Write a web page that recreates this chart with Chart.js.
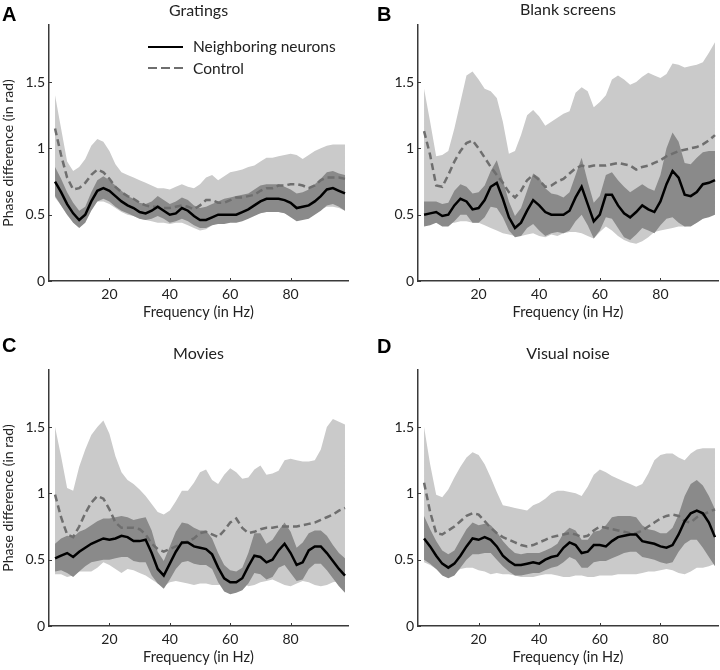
<!DOCTYPE html>
<html>
<head>
<meta charset="UTF-8">
<title>Phase difference</title>
<script src="https://cdn.jsdelivr.net/npm/chart.js"></script>
<style>
  body { margin: 0; background: #fff; }
  #wrap { position: relative; width: 720px; height: 670px; font-family: Lato, sans-serif; color: #222; }
  canvas { position: absolute; }
  .letter { position: absolute; font: bold 20px "Liberation Sans", Arial, sans-serif; line-height: 1; color: #000; }
  .title { position: absolute; font-size: 16px; line-height: 1; text-align: center; }
  .lgtext { position: absolute; font-size: 15.5px; line-height: 1; white-space: nowrap; }
  .lgline { position: absolute; width: 35px; height: 2.5px; }
</style>
</head>
<body>
<div id="wrap">
  <canvas id="chartA" width="360" height="320" style="left:0;top:0"></canvas>
  <canvas id="chartB" width="360" height="320" style="left:360px;top:0"></canvas>
  <canvas id="chartC" width="360" height="350" style="left:0;top:320px"></canvas>
  <canvas id="chartD" width="360" height="350" style="left:360px;top:320px"></canvas>

  <div class="letter" style="left:2px;top:4px">A</div>
  <div class="letter" style="left:377px;top:4px">B</div>
  <div class="letter" style="left:2px;top:335px">C</div>
  <div class="letter" style="left:377px;top:336px">D</div>

  <div class="title" style="left:49px;width:299px;top:2px">Gratings</div>
  <div class="title" style="left:418px;width:300px;top:1px">Blank screens</div>
  <div class="title" style="left:49px;width:299px;top:345px">Movies</div>
  <div class="title" style="left:418px;width:300px;top:345px">Visual noise</div>

  <div class="lgline" style="left:148px;top:45.75px;background:#000"></div>
  <div class="lgtext" style="left:193px;top:39px">Neighboring neurons</div>
  <div class="lgline" style="left:148px;top:66.75px;background:repeating-linear-gradient(90deg,#6e6e6e 0 9px,transparent 9px 13px)"></div>
  <div class="lgtext" style="left:193px;top:61px">Control</div>
</div>

<script>
// frequencies (Hz)
const freq = [2, 4, 6, 8, 10, 12, 14, 16, 18, 20,
              22, 24, 26, 28, 30, 32, 34, 36, 38, 40,
              42, 44, 46, 48, 50, 52, 54, 56, 58, 60,
              62, 64, 66, 68, 70, 72, 74, 76, 78, 80,
              82, 84, 86, 88, 90, 92, 94, 96, 98];
const xTicks = [20, 40, 60, 80];
const yTicks = [0, 0.5, 1, 1.5];

// A - Gratings
const aNeighbor = [0.75, 0.67, 0.58, 0.51, 0.46, 0.50, 0.60, 0.68, 0.70, 0.68,
                   0.64, 0.60, 0.57, 0.55, 0.52, 0.51, 0.53, 0.56, 0.53, 0.50,
                   0.51, 0.55, 0.53, 0.49, 0.46, 0.46, 0.48, 0.50, 0.50, 0.50,
                   0.50, 0.52, 0.54, 0.57, 0.60, 0.62, 0.62, 0.62, 0.61, 0.59,
                   0.55, 0.56, 0.57, 0.60, 0.64, 0.69, 0.70, 0.68, 0.66];
const aNeighborHi = [0.86, 0.77, 0.67, 0.59, 0.53, 0.56, 0.67, 0.76, 0.79, 0.76,
                     0.72, 0.68, 0.64, 0.62, 0.59, 0.58, 0.60, 0.64, 0.61, 0.58,
                     0.60, 0.63, 0.61, 0.57, 0.55, 0.56, 0.58, 0.60, 0.62, 0.63,
                     0.64, 0.65, 0.66, 0.69, 0.72, 0.73, 0.73, 0.73, 0.71, 0.69,
                     0.66, 0.67, 0.69, 0.73, 0.77, 0.82, 0.83, 0.81, 0.80];
const aNeighborLo = [0.64, 0.57, 0.50, 0.44, 0.40, 0.44, 0.53, 0.60, 0.62, 0.60,
                     0.56, 0.53, 0.51, 0.49, 0.47, 0.46, 0.47, 0.49, 0.47, 0.44,
                     0.45, 0.47, 0.45, 0.42, 0.40, 0.40, 0.42, 0.43, 0.43, 0.44,
                     0.44, 0.45, 0.47, 0.49, 0.51, 0.52, 0.52, 0.52, 0.51, 0.48,
                     0.45, 0.46, 0.47, 0.50, 0.53, 0.57, 0.58, 0.56, 0.53];
const aControl = [1.15, 0.95, 0.78, 0.69, 0.70, 0.74, 0.80, 0.84, 0.82, 0.77,
                  0.71, 0.67, 0.64, 0.62, 0.59, 0.57, 0.56, 0.56, 0.55, 0.55,
                  0.56, 0.57, 0.56, 0.54, 0.57, 0.61, 0.61, 0.59, 0.59, 0.61,
                  0.63, 0.63, 0.64, 0.65, 0.68, 0.70, 0.70, 0.72, 0.72, 0.73,
                  0.73, 0.72, 0.70, 0.72, 0.76, 0.78, 0.78, 0.78, 0.77];
const aControlHi = [1.40, 1.15, 0.90, 0.83, 0.86, 0.92, 1.02, 1.07, 1.05, 0.98,
                    0.88, 0.82, 0.80, 0.78, 0.76, 0.74, 0.72, 0.70, 0.70, 0.69,
                    0.71, 0.73, 0.71, 0.70, 0.73, 0.78, 0.80, 0.76, 0.79, 0.82,
                    0.83, 0.84, 0.86, 0.87, 0.90, 0.93, 0.93, 0.94, 0.95, 0.96,
                    0.95, 0.92, 0.95, 0.98, 1.00, 1.02, 1.03, 1.03, 1.03];
const aControlLo = [0.63, 0.57, 0.50, 0.45, 0.43, 0.47, 0.55, 0.60, 0.60, 0.58,
                    0.55, 0.52, 0.50, 0.49, 0.47, 0.46, 0.45, 0.44, 0.44, 0.43,
                    0.44, 0.44, 0.42, 0.40, 0.38, 0.39, 0.42, 0.44, 0.44, 0.45,
                    0.45, 0.46, 0.48, 0.50, 0.51, 0.52, 0.52, 0.52, 0.51, 0.49,
                    0.47, 0.47, 0.49, 0.52, 0.54, 0.56, 0.56, 0.55, 0.53];

// B - Blank screens
const bNeighbor = [0.50, 0.51, 0.52, 0.49, 0.50, 0.57, 0.62, 0.60, 0.54, 0.55,
                   0.61, 0.71, 0.74, 0.62, 0.48, 0.40, 0.44, 0.53, 0.61, 0.57,
                   0.52, 0.50, 0.50, 0.50, 0.53, 0.63, 0.71, 0.58, 0.45, 0.50,
                   0.65, 0.65, 0.57, 0.51, 0.48, 0.52, 0.57, 0.54, 0.52, 0.60,
                   0.73, 0.83, 0.78, 0.65, 0.64, 0.67, 0.73, 0.74, 0.76];
const bNeighborHi = [0.60, 0.60, 0.60, 0.58, 0.59, 0.68, 0.73, 0.71, 0.66, 0.67,
                     0.72, 0.83, 0.91, 0.76, 0.60, 0.49, 0.55, 0.68, 0.81, 0.78,
                     0.70, 0.66, 0.65, 0.63, 0.67, 0.80, 0.93, 0.75, 0.59, 0.64,
                     0.80, 0.82, 0.76, 0.71, 0.67, 0.70, 0.73, 0.70, 0.68, 0.80,
                     1.00, 1.12, 1.05, 0.89, 0.88, 0.93, 0.97, 0.98, 0.98];
const bNeighborLo = [0.41, 0.42, 0.44, 0.41, 0.41, 0.45, 0.50, 0.50, 0.44, 0.44,
                     0.48, 0.56, 0.55, 0.48, 0.38, 0.33, 0.34, 0.40, 0.43, 0.38,
                     0.34, 0.36, 0.37, 0.36, 0.38, 0.45, 0.50, 0.42, 0.32, 0.38,
                     0.48, 0.47, 0.40, 0.33, 0.31, 0.35, 0.40, 0.38, 0.36, 0.42,
                     0.47, 0.48, 0.44, 0.41, 0.41, 0.44, 0.47, 0.48, 0.50];
const bControl = [1.13, 0.95, 0.72, 0.71, 0.80, 0.90, 0.98, 1.04, 1.06, 1.00,
                  0.93, 0.86, 0.80, 0.74, 0.67, 0.63, 0.68, 0.76, 0.80, 0.76,
                  0.71, 0.72, 0.75, 0.77, 0.81, 0.85, 0.87, 0.86, 0.87, 0.87,
                  0.87, 0.88, 0.89, 0.88, 0.87, 0.84, 0.86, 0.87, 0.89, 0.91,
                  0.94, 0.96, 0.98, 0.99, 1.00, 1.01, 1.03, 1.06, 1.10];
const bControlHi = [1.45, 1.20, 0.94, 0.95, 0.98, 1.15, 1.35, 1.55, 1.58, 1.52,
                    1.45, 1.43, 1.38, 1.20, 0.96, 0.98, 1.10, 1.25, 1.29, 1.24,
                    1.17, 1.20, 1.23, 1.26, 1.28, 1.42, 1.46, 1.43, 1.31, 1.35,
                    1.40, 1.52, 1.55, 1.52, 1.48, 1.50, 1.54, 1.57, 1.55, 1.53,
                    1.56, 1.64, 1.63, 1.61, 1.62, 1.63, 1.65, 1.72, 1.80];
const bControlLo = [0.42, 0.43, 0.44, 0.44, 0.44, 0.44, 0.45, 0.45, 0.44, 0.44,
                    0.42, 0.40, 0.38, 0.36, 0.35, 0.34, 0.34, 0.35, 0.36, 0.34,
                    0.33, 0.35, 0.34, 0.36, 0.37, 0.37, 0.36, 0.34, 0.32, 0.37,
                    0.41, 0.38, 0.34, 0.31, 0.29, 0.28, 0.30, 0.33, 0.37, 0.38,
                    0.39, 0.40, 0.41, 0.41, 0.42, 0.44, 0.47, 0.49, 0.52];

// C - Movies
const cNeighbor = [0.51, 0.53, 0.55, 0.52, 0.56, 0.59, 0.62, 0.64, 0.66, 0.65,
                   0.66, 0.68, 0.67, 0.64, 0.64, 0.65, 0.55, 0.43, 0.38, 0.47,
                   0.56, 0.63, 0.63, 0.60, 0.59, 0.58, 0.54, 0.44, 0.36, 0.33,
                   0.33, 0.36, 0.45, 0.53, 0.52, 0.48, 0.50, 0.57, 0.62, 0.55,
                   0.46, 0.48, 0.57, 0.60, 0.60, 0.55, 0.49, 0.43, 0.38];
const cNeighborHi = [0.62, 0.66, 0.68, 0.67, 0.71, 0.73, 0.76, 0.79, 0.81, 0.81,
                     0.82, 0.83, 0.82, 0.80, 0.81, 0.82, 0.72, 0.56, 0.49, 0.60,
                     0.71, 0.78, 0.77, 0.74, 0.72, 0.72, 0.66, 0.55, 0.46, 0.42,
                     0.41, 0.44, 0.55, 0.70, 0.70, 0.62, 0.65, 0.72, 0.78, 0.71,
                     0.59, 0.63, 0.70, 0.72, 0.72, 0.68, 0.61, 0.55, 0.51];
const cNeighborLo = [0.41, 0.42, 0.40, 0.37, 0.41, 0.45, 0.48, 0.49, 0.50, 0.50,
                     0.51, 0.52, 0.52, 0.49, 0.48, 0.48, 0.38, 0.32, 0.28, 0.35,
                     0.43, 0.48, 0.49, 0.47, 0.46, 0.46, 0.43, 0.33, 0.26, 0.24,
                     0.25, 0.27, 0.32, 0.40, 0.39, 0.35, 0.37, 0.44, 0.46, 0.40,
                     0.34, 0.35, 0.43, 0.47, 0.47, 0.42, 0.36, 0.30, 0.25];
const cControl = [0.99, 0.82, 0.69, 0.67, 0.75, 0.85, 0.93, 0.98, 0.96, 0.88,
                  0.78, 0.74, 0.74, 0.74, 0.73, 0.69, 0.62, 0.58, 0.56, 0.58,
                  0.60, 0.62, 0.64, 0.66, 0.70, 0.71, 0.69, 0.67, 0.72, 0.78,
                  0.81, 0.74, 0.70, 0.71, 0.73, 0.74, 0.74, 0.75, 0.75, 0.75,
                  0.75, 0.76, 0.77, 0.78, 0.80, 0.82, 0.84, 0.87, 0.89];
const cControlHi = [1.50, 1.28, 1.04, 1.02, 1.20, 1.33, 1.44, 1.50, 1.55, 1.45,
                    1.28, 1.16, 1.10, 1.07, 1.03, 0.98, 0.92, 0.86, 0.84, 0.87,
                    0.94, 1.02, 1.02, 1.08, 1.16, 1.18, 1.10, 1.07, 1.14, 1.19,
                    1.16, 1.11, 1.12, 1.18, 1.21, 1.14, 1.15, 1.17, 1.25, 1.26,
                    1.25, 1.24, 1.24, 1.25, 1.33, 1.50, 1.56, 1.54, 1.52];
const cControlLo = [0.39, 0.39, 0.37, 0.38, 0.41, 0.41, 0.41, 0.44, 0.48, 0.46,
                    0.43, 0.40, 0.43, 0.42, 0.40, 0.38, 0.35, 0.32, 0.30, 0.33,
                    0.34, 0.33, 0.32, 0.31, 0.32, 0.32, 0.31, 0.31, 0.32, 0.32,
                    0.34, 0.33, 0.30, 0.31, 0.33, 0.34, 0.35, 0.33, 0.31, 0.30,
                    0.32, 0.34, 0.33, 0.31, 0.30, 0.31, 0.33, 0.34, 0.34];

// D - Visual noise
const dNeighbor = [0.66, 0.60, 0.53, 0.47, 0.44, 0.47, 0.53, 0.60, 0.66, 0.65,
                   0.67, 0.65, 0.60, 0.53, 0.49, 0.46, 0.46, 0.47, 0.48, 0.47,
                   0.50, 0.52, 0.53, 0.59, 0.63, 0.61, 0.55, 0.56, 0.61, 0.61,
                   0.60, 0.64, 0.67, 0.68, 0.69, 0.69, 0.64, 0.63, 0.62, 0.60,
                   0.59, 0.61, 0.69, 0.79, 0.85, 0.87, 0.85, 0.78, 0.67];
const dNeighborHi = [0.83, 0.73, 0.64, 0.57, 0.54, 0.57, 0.65, 0.73, 0.78, 0.76,
                     0.77, 0.76, 0.71, 0.64, 0.59, 0.55, 0.54, 0.55, 0.55, 0.55,
                     0.57, 0.59, 0.62, 0.70, 0.74, 0.72, 0.65, 0.65, 0.71, 0.72,
                     0.76, 0.82, 0.83, 0.83, 0.83, 0.82, 0.76, 0.73, 0.72, 0.70,
                     0.70, 0.74, 0.84, 0.98, 1.07, 1.10, 1.06, 0.98, 0.88];
const dNeighborLo = [0.50, 0.47, 0.43, 0.38, 0.36, 0.38, 0.44, 0.50, 0.54, 0.54,
                     0.55, 0.55, 0.50, 0.45, 0.41, 0.38, 0.38, 0.39, 0.40, 0.40,
                     0.42, 0.44, 0.45, 0.48, 0.52, 0.50, 0.44, 0.44, 0.48, 0.49,
                     0.49, 0.51, 0.53, 0.55, 0.56, 0.56, 0.52, 0.51, 0.50, 0.48,
                     0.47, 0.48, 0.56, 0.62, 0.65, 0.65, 0.59, 0.52, 0.45];
const dControl = [1.08, 0.86, 0.70, 0.69, 0.72, 0.75, 0.79, 0.83, 0.85, 0.84,
                  0.79, 0.74, 0.70, 0.67, 0.65, 0.63, 0.61, 0.60, 0.61, 0.63,
                  0.65, 0.67, 0.68, 0.69, 0.70, 0.69, 0.67, 0.68, 0.72, 0.75,
                  0.74, 0.73, 0.72, 0.71, 0.70, 0.70, 0.72, 0.75, 0.78, 0.81,
                  0.83, 0.84, 0.83, 0.79, 0.78, 0.82, 0.84, 0.86, 0.88];
const dControlHi = [1.50, 1.22, 0.99, 0.97, 1.03, 1.12, 1.20, 1.27, 1.31, 1.29,
                    1.22, 1.12, 1.01, 0.91, 0.90, 0.89, 0.88, 0.87, 0.91, 0.93,
                    0.96, 1.00, 1.02, 1.02, 1.01, 1.00, 0.98, 1.05, 1.14, 1.18,
                    1.16, 1.13, 1.11, 1.09, 1.07, 1.05, 1.07, 1.15, 1.25, 1.29,
                    1.30, 1.30, 1.27, 1.25, 1.30, 1.33, 1.34, 1.34, 1.34];
const dControlLo = [0.48, 0.46, 0.43, 0.41, 0.40, 0.40, 0.43, 0.44, 0.44, 0.42,
                    0.41, 0.39, 0.40, 0.39, 0.39, 0.38, 0.37, 0.37, 0.37, 0.38,
                    0.39, 0.39, 0.38, 0.37, 0.37, 0.38, 0.38, 0.37, 0.37, 0.38,
                    0.38, 0.38, 0.39, 0.39, 0.39, 0.39, 0.40, 0.41, 0.41, 0.42,
                    0.43, 0.42, 0.40, 0.39, 0.41, 0.44, 0.44, 0.45, 0.47];

Chart.defaults.font.family = 'Lato, sans-serif';
Chart.defaults.color = '#222';

const AXIS = '#3a3a3a';
const LIGHT = '#cacaca';
const DARK = '#8a8a8a';

// small tick marks pointing into the plot, like the matlab figure
const innerTicks = {
    id: 'innerTicks',
    afterDraw(chart) {
        const {ctx, chartArea: a, scales: {x, y}} = chart;
        ctx.save();
        ctx.strokeStyle = AXIS;
        ctx.lineWidth = 1;
        ctx.beginPath();
        xTicks.forEach(v => {
            const p = Math.round(x.getPixelForValue(v)) + 0.5;
            ctx.moveTo(p, a.bottom);
            ctx.lineTo(p, a.bottom - 3);
        });
        yTicks.forEach(v => {
            const p = Math.round(y.getPixelForValue(v)) + 0.5;
            ctx.moveTo(a.left, p);
            ctx.lineTo(a.left + 3, p);
        });
        ctx.stroke();
        ctx.restore();
    }
};

function pts(vals) {
    return vals.map((v, i) => ({x: freq[i], y: v}));
}

function band(vals, color) {
    return {
        data: pts(vals),
        borderColor: 'rgba(0,0,0,0)',
        borderWidth: 0,
        backgroundColor: color || 'rgba(0,0,0,0)',
        fill: color ? '+1' : false
    };
}

function makePanel(id, s, o) {
    return new Chart(document.getElementById(id), {
        type: 'line',
        data: {
            datasets: [
                {data: pts(s.neighbor), borderColor: '#000', borderWidth: 2.5, fill: false},
                {data: pts(s.control), borderColor: '#6e6e6e', borderWidth: 2.5, borderDash: [7, 4], fill: false},
                band(s.neighborHi, DARK),
                band(s.neighborLo),
                band(s.controlHi, LIGHT),
                band(s.controlLo)
            ]
        },
        options: {
            responsive: false,
            animation: false,
            layout: {padding: {left: 0, top: o.top, right: o.right, bottom: 0}},
            plugins: {legend: {display: false}, tooltip: {enabled: false}},
            elements: {point: {radius: 0}, line: {tension: 0}},
            scales: {
                x: {
                    type: 'linear',
                    min: 0,
                    max: 99,
                    afterBuildTicks: sc => { sc.ticks = xTicks.map(v => ({value: v})); },
                    afterFit: sc => { sc.height = o.xh; },
                    grid: {display: false, drawTicks: false, tickLength: 0},
                    border: {color: AXIS, width: 1.5},
                    ticks: {font: {size: 14}, padding: 5, maxRotation: 0, callback: v => String(v)},
                    title: {
                        display: true,
                        text: 'Frequency (in Hz)',
                        font: {size: 14.5, lineHeight: 1},
                        padding: {top: 0, bottom: o.xtb}
                    }
                },
                y: {
                    min: 0,
                    max: 1.93,
                    afterBuildTicks: sc => { sc.ticks = yTicks.map(v => ({value: v})); },
                    afterFit: sc => { sc.width = o.yw; },
                    grid: {display: false, drawTicks: false, tickLength: 0},
                    border: {color: AXIS, width: 1.5},
                    ticks: {font: {size: 14}, padding: 4, callback: v => String(v)},
                    title: {
                        display: o.ytitle,
                        text: 'Phase difference (in rad)',
                        font: {size: 14},
                        padding: {top: 0, bottom: 0}
                    }
                }
            }
        },
        plugins: [innerTicks]
    });
}

makePanel('chartA', {
    neighbor: aNeighbor, neighborHi: aNeighborHi, neighborLo: aNeighborLo,
    control: aControl, controlHi: aControlHi, controlLo: aControlLo
}, {top: 25, right: 12, xh: 39, yw: 49, xtb: 0, ytitle: true});

makePanel('chartB', {
    neighbor: bNeighbor, neighborHi: bNeighborHi, neighborLo: bNeighborLo,
    control: bControl, controlHi: bControlHi, controlLo: bControlLo
}, {top: 25, right: 2, xh: 39, yw: 58, xtb: 0, ytitle: false});

makePanel('chartC', {
    neighbor: cNeighbor, neighborHi: cNeighborHi, neighborLo: cNeighborLo,
    control: cControl, controlHi: cControlHi, controlLo: cControlLo
}, {top: 50, right: 12, xh: 44, yw: 49, xtb: 5, ytitle: true});

makePanel('chartD', {
    neighbor: dNeighbor, neighborHi: dNeighborHi, neighborLo: dNeighborLo,
    control: dControl, controlHi: dControlHi, controlLo: dControlLo
}, {top: 50, right: 2, xh: 44, yw: 58, xtb: 5, ytitle: false});
</script>
</body>
</html>
